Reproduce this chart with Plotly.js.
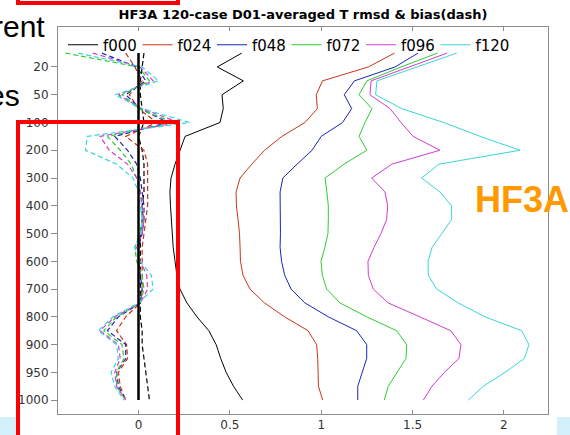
<!DOCTYPE html>
<html>
<head>
<meta charset="utf-8">
<script src="https://cdn.plot.ly/plotly-3.0.1.min.js"></script>
<style>
  html, body { margin: 0; padding: 0; background: #ffffff; }
  #chart { width: 570px; height: 435px; }
</style>
</head>
<body>
<div id="chart"></div>
<script>
// Pressure levels (hPa), top of the profile first
const levels = [10, 20, 30, 50, 70, 100, 150, 200, 250, 300, 350, 400, 450, 500,
                550, 600, 650, 700, 750, 800, 850, 900, 925, 950, 975, 1000];
const yTickLabels = [20, 50, 100, 200, 300, 400, 500, 600, 700, 800, 900, 950, 1000];
const xTickVals = [0, 0.5, 1, 1.5, 2];
const leadTimes = ['f000', 'f024', 'f048', 'f072', 'f096', 'f120'];

// Temperature RMSD (K) per lead time
const rmsdF000 = [0.565, 0.431, 0.574, 0.457, 0.464, 0.446, 0.255, 0.227, 0.200, 0.178, 0.172, 0.175, 0.180,
                  0.186, 0.190, 0.200, 0.210, 0.227, 0.265, 0.320, 0.385, 0.425, 0.450, 0.480, 0.520, 0.570];
const rmsdF024 = [1.401, 1.258, 1.007, 0.973, 0.979, 0.911, 0.785, 0.690, 0.620, 0.556, 0.534, 0.536, 0.545,
                  0.553, 0.556, 0.558, 0.572, 0.610, 0.690, 0.800, 0.928, 0.975, 0.981, 0.983, 0.985, 1.008];
const rmsdF048 = [1.530, 1.404, 1.182, 1.126, 1.167, 1.117, 1.000, 0.950, 0.868, 0.790, 0.775, 0.777, 0.778,
                  0.777, 0.775, 0.783, 0.800, 0.835, 0.911, 1.039, 1.194, 1.249, 1.249, 1.223, 1.200, 1.200];
const rmsdF072 = [1.637, 1.437, 1.250, 1.207, 1.278, 1.240, 1.207, 1.250, 1.125, 1.021, 1.031, 1.039, 1.039,
                  1.037, 1.020, 0.999, 1.006, 1.030, 1.103, 1.249, 1.413, 1.468, 1.464, 1.415, 1.367, 1.345];
const rmsdF096 = [1.690, 1.480, 1.273, 1.267, 1.377, 1.437, 1.503, 1.650, 1.387, 1.276, 1.349, 1.364, 1.358,
                  1.327, 1.289, 1.256, 1.258, 1.285, 1.367, 1.540, 1.709, 1.765, 1.754, 1.674, 1.606, 1.559];
const rmsdF120 = [1.742, 1.523, 1.305, 1.298, 1.441, 1.670, 1.870, 2.088, 1.645, 1.550, 1.650, 1.714, 1.714,
                  1.660, 1.607, 1.585, 1.586, 1.632, 1.750, 1.897, 2.097, 2.137, 2.112, 2.006, 1.887, 1.805];

// Temperature bias (K) per lead time
const biasF000 = [0.03, 0.02, 0.01, 0.01, 0.02, 0.03, 0.00, 0.02, 0.03, 0.03, 0.03, 0.02, 0.02,
                  0.01, 0.01, 0.01, 0.01, 0.01, 0.01, 0.01, 0.02, 0.02, 0.03, 0.04, 0.05, 0.06];
const biasF024 = [-0.07, -0.02, 0.02, -0.05, 0.00, 0.10, -0.07, 0.03, 0.05, 0.05, 0.05, 0.05, 0.04,
                  0.03, 0.02, 0.02, 0.02, 0.02, 0.01, -0.07, -0.12, -0.065, -0.06, -0.11, -0.10, -0.07];
const biasF048 = [-0.20, -0.01, 0.04, -0.07, 0.01, 0.16, -0.13, -0.06, -0.01, 0.01, 0.02, 0.03, 0.03,
                  0.02, 0.00, 0.00, 0.01, 0.02, 0.01, -0.11, -0.17, -0.07, -0.07, -0.12, -0.11, -0.07];
const biasF072 = [-0.40, 0.00, 0.06, -0.09, 0.00, 0.19, -0.17, -0.10, -0.04, -0.01, 0.01, 0.02, 0.02,
                  0.01, -0.02, -0.01, 0.02, 0.03, 0.01, -0.12, -0.19, -0.09, -0.08, -0.12, -0.12, -0.07];
const biasF096 = [-0.25, 0.01, 0.08, -0.11, 0.02, 0.22, -0.21, -0.16, -0.06, -0.01, 0.01, 0.02, 0.03,
                  0.02, -0.01, 0.01, 0.045, 0.05, 0.01, -0.13, -0.21, -0.11, -0.10, -0.13, -0.12, -0.07];
const biasF120 = [-0.33, 0.02, 0.11, -0.13, 0.02, 0.28, -0.28, -0.29, -0.12, -0.03, 0.00, 0.01, 0.02,
                  0.01, -0.02, 0.01, 0.07, 0.08, 0.00, -0.14, -0.22, -0.12, -0.11, -0.15, -0.13, -0.08];

const rmsdSeries = [rmsdF000, rmsdF024, rmsdF048, rmsdF072, rmsdF096, rmsdF120];
const biasSeries = [biasF000, biasF024, biasF048, biasF072, biasF096, biasF120];
const lineColors = ['#000000', '#cc3318', '#1a24b8', '#2ecc2e', '#d23cd2', '#3ad6d6'];

// Levels are spaced evenly: each one is half a tick step below the previous
const levelPos = p => levels.indexOf(p) * 0.5 - 0.5;
const yPos = levels.map(levelPos);
const yTickVals = yTickLabels.map(levelPos);

const traces = [];
rmsdSeries.forEach((vals, i) => {
  traces.push({
    type: 'scatter', mode: 'lines', x: vals, y: yPos, name: leadTimes[i],
    line: { color: lineColors[i], width: 1 }, hoverinfo: 'skip'
  });
});
biasSeries.forEach((vals, i) => {
  traces.push({
    type: 'scatter', mode: 'lines', x: vals, y: yPos, name: leadTimes[i] + ' bias',
    showlegend: false,
    line: { color: lineColors[i], width: 1.2, dash: '5px,3px' }, hoverinfo: 'skip'
  });
});

// plot area in pixels: left 58, right 548, top 27, bottom 414
const px2x = px => (px - 58) / 490;
const py2y = py => (414 - py) / 387;

const axisFont = { family: 'DejaVu Sans', size: 12, color: '#333333' };

const layout = {
  width: 570, height: 435,
  margin: { l: 58, r: 22, t: 27, b: 21, pad: 0 },
  paper_bgcolor: '#ffffff', plot_bgcolor: '#ffffff',
  showlegend: true,
  title: {
    text: '<b>HF3A 120-case D01-averaged T rmsd &amp; bias(dash)</b>',
    font: { family: 'DejaVu Sans', size: 13, color: '#000000' },
    x: px2x(303), xref: 'paper', xanchor: 'center',
    y: 1 - 14 / 435, yref: 'container', yanchor: 'middle'
  },
  xaxis: {
    range: [-0.4406, 2.2414], tickmode: 'array', tickvals: xTickVals,
    ticktext: xTickVals.map(String),
    showgrid: false, zeroline: false,
    showline: true, linecolor: '#8c8c8c', linewidth: 1, mirror: 'allticks',
    ticks: 'inside', ticklen: 4, tickcolor: '#8c8c8c',
    tickfont: axisFont
  },
  yaxis: {
    range: [12.5, -1.44], tickmode: 'array', tickvals: yTickVals,
    ticktext: yTickLabels.map(String),
    showgrid: false, zeroline: false,
    showline: true, linecolor: '#8c8c8c', linewidth: 1, mirror: true,
    ticks: 'outside', ticklen: 6, tickcolor: '#8c8c8c',
    tickfont: axisFont
  },
  yaxis2: {
    overlaying: 'y', side: 'right', anchor: 'x',
    range: [12.5, -1.44], tickmode: 'array', tickvals: yTickVals,
    showticklabels: false, showgrid: false, zeroline: false, showline: false,
    ticks: 'inside', ticklen: 4, tickcolor: '#8c8c8c'
  },
  legend: {
    orientation: 'h', x: px2x(63), xanchor: 'left', y: py2y(45), yanchor: 'middle',
    font: { family: 'DejaVu Sans', size: 15, color: '#000000' },
    bgcolor: 'rgba(0,0,0,0)', borderwidth: 0,
    entrywidth: 29.5, entrywidthmode: 'pixels', itemwidth: 30
  },
  shapes: [
    // zero reference line
    { type: 'line', xref: 'x', yref: 'y', x0: 0, x1: 0, y0: levelPos(10), y1: levelPos(1000),
      line: { color: '#000000', width: 2.5 }, layer: 'above' },
    // highlight frames
    { type: 'rect', xref: 'paper', yref: 'paper', x0: px2x(18), x1: px2x(178), y0: py2y(3), y1: py2y(-20),
      line: { color: '#ff0000', width: 4 }, fillcolor: 'rgba(0,0,0,0)', layer: 'above' },
    { type: 'rect', xref: 'paper', yref: 'paper', x0: px2x(18), x1: px2x(178), y0: py2y(122), y1: py2y(460),
      line: { color: '#ff0000', width: 4 }, fillcolor: 'rgba(0,0,0,0)', layer: 'above' },
    // light blue panels along the bottom edge
    { type: 'rect', xref: 'paper', yref: 'paper', x0: px2x(-5), x1: px2x(16), y0: py2y(440), y1: py2y(417),
      line: { width: 0 }, fillcolor: '#d3effa', layer: 'below' },
    { type: 'rect', xref: 'paper', yref: 'paper', x0: px2x(557), x1: px2x(580), y0: py2y(440), y1: py2y(417),
      line: { width: 0 }, fillcolor: '#d3effa', layer: 'below' }
  ],
  annotations: [
    { text: 'rent', xref: 'paper', yref: 'paper', x: px2x(47), y: py2y(26.5), xanchor: 'right', yanchor: 'middle',
      showarrow: false, font: { family: 'Liberation Sans', size: 30, color: '#000000' } },
    { text: 'es', xref: 'paper', yref: 'paper', x: px2x(22), y: py2y(95.5), xanchor: 'right', yanchor: 'middle',
      showarrow: false, font: { family: 'Liberation Sans', size: 30, color: '#000000' } },
    { text: '<b>HF3A</b>', xref: 'paper', yref: 'paper', x: px2x(473), y: py2y(199.5), xanchor: 'left', yanchor: 'middle',
      showarrow: false, font: { family: 'Liberation Sans', size: 36, color: '#ff9900' } }
  ]
};

Plotly.newPlot('chart', traces, layout, { staticPlot: true, displayModeBar: false });
</script>
</body>
</html>
